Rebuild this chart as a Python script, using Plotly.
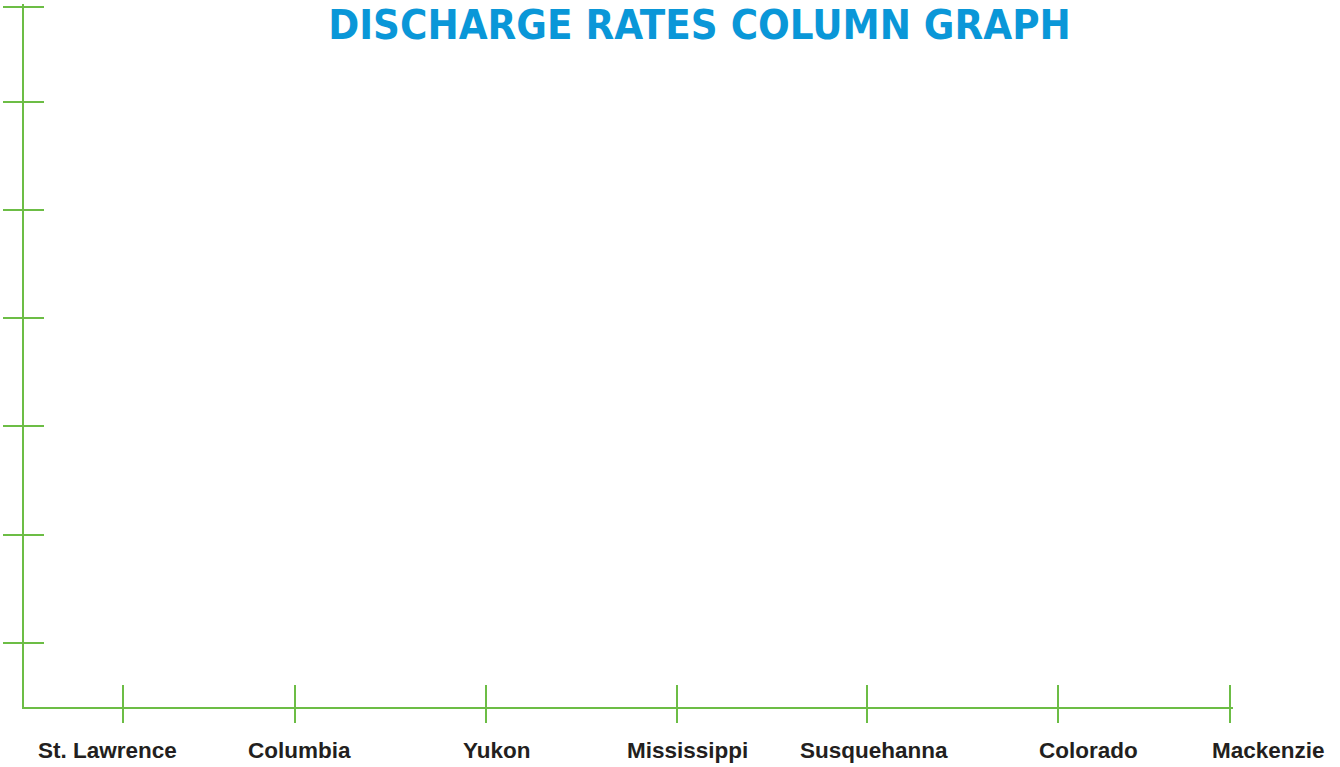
import plotly.graph_objects as go

# ---- data (blank column-graph template: no discharge values filled in) ----
rivers = ["St. Lawrence", "Columbia", "Yukon", "Mississippi",
          "Susquehanna", "Colorado", "Mackenzie"]
discharge = [None, None, None, None, None, None, None]

# axis tick positions (axis units) and label anchor positions
x_ticks = [99, 271, 462, 653, 843, 1034, 1206]
label_x = [83, 275, 473, 663, 850, 1064, 1244]
y_ticks = [64, 172, 281, 389, 497, 605, 700]

X_MAX = 1209
Y_MAX = 703

GREEN = "#6cbd45"
TITLE_BLUE = "#0a97d8"
TEXT = "#231f20"

fig = go.Figure()
fig.add_trace(go.Bar(x=label_x, y=discharge, marker_color=TITLE_BLUE,
                     hoverinfo="skip", showlegend=False))
fig.add_trace(go.Scatter(x=[None], y=[None], xaxis="x2", yaxis="y2",
                         mode="markers", showlegend=False, hoverinfo="skip"))

common_x = dict(range=[0, X_MAX], tickmode="array", tickvals=x_ticks,
                showgrid=False, zeroline=False, showticklabels=False,
                tickcolor=GREEN, tickwidth=2, fixedrange=True)
common_y = dict(range=[0, Y_MAX], tickmode="array", tickvals=y_ticks,
                showgrid=False, zeroline=False, showticklabels=False,
                tickcolor=GREEN, tickwidth=2, fixedrange=True)

fig.update_layout(
    width=1340, height=767,
    paper_bgcolor="white", plot_bgcolor="white",
    margin=dict(l=24, r=1340 - 24 - X_MAX, t=707 - Y_MAX, b=60),
    xaxis=dict(**common_x, ticks="outside", ticklen=14,
               showline=True, linecolor=GREEN, linewidth=2),
    yaxis=dict(**common_y, ticks="outside", ticklen=19,
               showline=True, linecolor=GREEN, linewidth=2),
    xaxis2=dict(**common_x, ticks="inside", ticklen=22, overlaying="x",
                anchor="y", side="bottom", showline=False),
    yaxis2=dict(**common_y, ticks="inside", ticklen=20, overlaying="y",
                anchor="x", side="left", showline=False),
    title=dict(text="DISCHARGE RATES COLUMN GRAPH",
               font=dict(family="DejaVu Sans Condensed, DejaVu Sans", size=41.5,
                         color=TITLE_BLUE, weight="bold"),
               xref="container", yref="container",
               x=699.5 / 1340, y=1 - 24 / 767,
               xanchor="center", yanchor="middle"),
)

for name, lx in zip(rivers, label_x):
    fig.add_annotation(x=lx / X_MAX, y=-43 / Y_MAX, xref="paper", yref="paper",
                       text=name, showarrow=False,
                       xanchor="center", yanchor="middle",
                       font=dict(family="Liberation Sans", size=22.5,
                                 color=TEXT, weight="bold"))

fig.write_html("out.html", config={"displayModeBar": False},
               post_script="document.body.style.margin='0';"
                           "document.body.style.overflow='hidden';")
